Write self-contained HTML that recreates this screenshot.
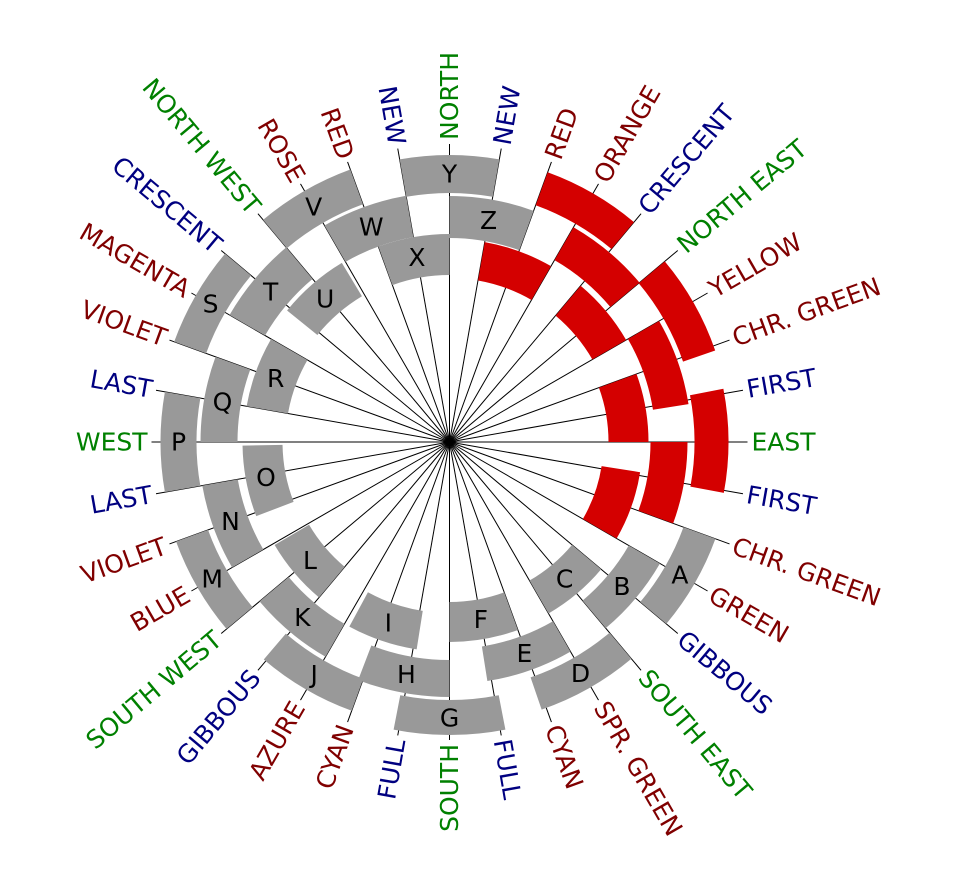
<!DOCTYPE html>
<html><head><meta charset="utf-8"><style>
html,body{margin:0;padding:0;background:#fff;}
svg{display:block;}
.b{fill:none;stroke:#999;}
.r{fill:none;stroke:#d40000;}
.l{font-family:"DejaVu Sans","Liberation Sans",sans-serif;font-size:25px;fill:#000;text-anchor:middle;dominant-baseline:central;}
.t{font-family:"DejaVu Sans","Liberation Sans",sans-serif;font-size:25px;dominant-baseline:central;}
.g{fill:#008000}.d{fill:#800000}.n{fill:#000080}
.R{text-anchor:start}.L{text-anchor:end}
</style></head><body>
<svg width="969" height="889" viewBox="0 0 969 889" xmlns="http://www.w3.org/2000/svg">
<g transform="translate(449.5,442)">
<g stroke="#000" stroke-width="1">
<line x2="0" y2="-298" transform="rotate(0)"/><line x2="0" y2="-298" transform="rotate(10)"/><line x2="0" y2="-298" transform="rotate(20)"/><line x2="0" y2="-298" transform="rotate(30)"/><line x2="0" y2="-298" transform="rotate(40)"/><line x2="0" y2="-298" transform="rotate(50)"/><line x2="0" y2="-298" transform="rotate(60)"/><line x2="0" y2="-298" transform="rotate(70)"/><line x2="0" y2="-298" transform="rotate(80)"/><line x2="0" y2="-298" transform="rotate(90)"/><line x2="0" y2="-298" transform="rotate(100)"/><line x2="0" y2="-298" transform="rotate(110)"/><line x2="0" y2="-298" transform="rotate(120)"/><line x2="0" y2="-298" transform="rotate(130)"/><line x2="0" y2="-298" transform="rotate(140)"/><line x2="0" y2="-298" transform="rotate(150)"/><line x2="0" y2="-298" transform="rotate(160)"/><line x2="0" y2="-298" transform="rotate(170)"/><line x2="0" y2="-298" transform="rotate(180)"/><line x2="0" y2="-298" transform="rotate(190)"/><line x2="0" y2="-298" transform="rotate(200)"/><line x2="0" y2="-298" transform="rotate(210)"/><line x2="0" y2="-298" transform="rotate(220)"/><line x2="0" y2="-298" transform="rotate(230)"/><line x2="0" y2="-298" transform="rotate(240)"/><line x2="0" y2="-298" transform="rotate(250)"/><line x2="0" y2="-298" transform="rotate(260)"/><line x2="0" y2="-298" transform="rotate(270)"/><line x2="0" y2="-298" transform="rotate(280)"/><line x2="0" y2="-298" transform="rotate(290)"/><line x2="0" y2="-298" transform="rotate(300)"/><line x2="0" y2="-298" transform="rotate(310)"/><line x2="0" y2="-298" transform="rotate(320)"/><line x2="0" y2="-298" transform="rotate(330)"/><line x2="0" y2="-298" transform="rotate(340)"/><line x2="0" y2="-298" transform="rotate(350)"/>
</g>
<circle r="4" fill="#000"/>
<circle class="b" r="266" stroke-width="34" stroke-dasharray="92.85 3000" transform="rotate(20)"/>
<circle class="b" r="225" stroke-width="36" stroke-dasharray="78.54 3000" transform="rotate(30)"/>
<circle class="b" r="179" stroke-width="38" stroke-dasharray="62.48 3000" transform="rotate(40)"/>
<circle class="b" r="266" stroke-width="34" stroke-dasharray="97.49 3000" transform="rotate(50)"/>
<circle class="b" r="224.5" stroke-width="35" stroke-dasharray="82.28 3000" transform="rotate(60)"/>
<circle class="b" r="180" stroke-width="40" stroke-dasharray="62.83 3000" transform="rotate(70)"/>
<circle class="b" r="275.5" stroke-width="35" stroke-dasharray="105.78 3000" transform="rotate(79)"/>
<circle class="b" r="236.5" stroke-width="37" stroke-dasharray="86.68 3000" transform="rotate(90)"/>
<circle class="b" r="190.5" stroke-width="39" stroke-dasharray="64.83 3000" transform="rotate(99)"/>
<circle class="b" r="269" stroke-width="34" stroke-dasharray="96.25 3000" transform="rotate(110)"/>
<circle class="b" r="229" stroke-width="38" stroke-dasharray="79.94 3000" transform="rotate(120)"/>
<circle class="b" r="183" stroke-width="40" stroke-dasharray="62.28 3000" transform="rotate(130)"/>
<circle class="b" r="274" stroke-width="34" stroke-dasharray="95.64 3000" transform="rotate(140)"/>
<circle class="b" r="233" stroke-width="36" stroke-dasharray="81.33 3000" transform="rotate(150)"/>
<circle class="b" r="187" stroke-width="40" stroke-dasharray="65.27 3000" transform="rotate(159)"/>
<circle class="b" r="271" stroke-width="36" stroke-dasharray="94.6 3000" transform="rotate(170)"/>
<circle class="b" r="230.5" stroke-width="37" stroke-dasharray="80.46 3000" transform="rotate(180)"/>
<circle class="b" r="185" stroke-width="42" stroke-dasharray="64.58 3000" transform="rotate(190)"/>
<circle class="b" r="276" stroke-width="34" stroke-dasharray="96.34 3000" transform="rotate(200)"/>
<circle class="b" r="233.5" stroke-width="41" stroke-dasharray="81.5 3000" transform="rotate(210)"/>
<circle class="b" r="189.5" stroke-width="39" stroke-dasharray="66.15 3000" transform="rotate(219)"/>
<circle class="b" r="271.5" stroke-width="37" stroke-dasharray="94.77 3000" transform="rotate(230)"/>
<circle class="b" r="229" stroke-width="42" stroke-dasharray="79.94 3000" transform="rotate(240)"/>
<circle class="b" r="187.5" stroke-width="41" stroke-dasharray="65.45 3000" transform="rotate(250)"/>
<circle class="b" r="268" stroke-width="38" stroke-dasharray="93.55 3000" transform="rotate(260)"/>
<circle class="b" r="225" stroke-width="42" stroke-dasharray="78.54 3000" transform="rotate(-90)"/>
<circle class="r" r="183.5" stroke-width="39" stroke-dasharray="64.05 3000" transform="rotate(-80)"/>
<circle class="r" r="269.5" stroke-width="35" stroke-dasharray="94.07 3000" transform="rotate(-70)"/>
<circle class="r" r="229" stroke-width="38" stroke-dasharray="79.94 3000" transform="rotate(-60)"/>
<circle class="r" r="184.5" stroke-width="39" stroke-dasharray="64.4 3000" transform="rotate(-50)"/>
<circle class="r" r="264" stroke-width="34" stroke-dasharray="96.76 3000" transform="rotate(-40)"/>
<circle class="r" r="224" stroke-width="36" stroke-dasharray="82.1 3000" transform="rotate(-30)"/>
<circle class="r" r="179" stroke-width="40" stroke-dasharray="62.48 3000" transform="rotate(-20)"/>
<circle class="r" r="262" stroke-width="34" stroke-dasharray="98.31 3000" transform="rotate(-11)"/>
<circle class="r" r="219.5" stroke-width="37" stroke-dasharray="76.62 3000" transform="rotate(0)"/>
<circle class="r" r="173.5" stroke-width="39" stroke-dasharray="63.59 3000" transform="rotate(9)"/>
<text class="l" x="230.4" y="133">A</text>
<text class="l" x="172.4" y="144.6">B</text>
<text class="l" x="115.1" y="137.1">C</text>
<text class="l" x="131" y="231.5">D</text>
<text class="l" x="74.9" y="211.6">E</text>
<text class="l" x="31.3" y="177.3">F</text>
<text class="l" x="0" y="276">G</text>
<text class="l" x="-43.1" y="232.5">H</text>
<text class="l" x="-61.2" y="180.9">I</text>
<text class="l" x="-135.3" y="232.5">J</text>
<text class="l" x="-147.2" y="175.4">K</text>
<text class="l" x="-139.6" y="118.4">L</text>
<text class="l" x="-237.3" y="137">M</text>
<text class="l" x="-219" y="79.7">N</text>
<text class="l" x="-183.6" y="35.7">O</text>
<text class="l" x="-271" y="0">P</text>
<text class="l" x="-227" y="-40">Q</text>
<text class="l" x="-173.8" y="-63.3">R</text>
<text class="l" x="-239" y="-138">S</text>
<text class="l" x="-178.9" y="-150.1">T</text>
<text class="l" x="-124.3" y="-143">U</text>
<text class="l" x="-135.8" y="-235.1">V</text>
<text class="l" x="-78.3" y="-215.2">W</text>
<text class="l" x="-32.6" y="-184.7">X</text>
<text class="l" x="0" y="-268">Y</text>
<text class="l" x="39.1" y="-221.6">Z</text>
<text class="t R g" transform="rotate(-90) translate(302,0)">NORTH</text>
<text class="t R n" transform="rotate(-80) translate(302,0)">NEW</text>
<text class="t R d" transform="rotate(-70) translate(302,0)">RED</text>
<text class="t R d" transform="rotate(-60) translate(302,0)">ORANGE</text>
<text class="t R n" transform="rotate(-50) translate(302,0)">CRESCENT</text>
<text class="t R g" transform="rotate(-40) translate(302,0)">NORTH EAST</text>
<text class="t R d" transform="rotate(-30) translate(302,0)">YELLOW</text>
<text class="t R d" transform="rotate(-20) translate(302,0)">CHR. GREEN</text>
<text class="t R n" transform="rotate(-10) translate(302,0)">FIRST</text>
<text class="t R g" transform="rotate(0) translate(302,0)">EAST</text>
<text class="t R n" transform="rotate(10) translate(302,0)">FIRST</text>
<text class="t R d" transform="rotate(20) translate(302,0)">CHR. GREEN</text>
<text class="t R d" transform="rotate(30) translate(302,0)">GREEN</text>
<text class="t R n" transform="rotate(40) translate(302,0)">GIBBOUS</text>
<text class="t R g" transform="rotate(50) translate(302,0)">SOUTH EAST</text>
<text class="t R d" transform="rotate(60) translate(302,0)">SPR. GREEN</text>
<text class="t R d" transform="rotate(70) translate(302,0)">CYAN</text>
<text class="t R n" transform="rotate(80) translate(302,0)">FULL</text>
<text class="t L g" transform="rotate(270) translate(-302,0)">SOUTH</text>
<text class="t L n" transform="rotate(280) translate(-302,0)">FULL</text>
<text class="t L d" transform="rotate(290) translate(-302,0)">CYAN</text>
<text class="t L d" transform="rotate(300) translate(-302,0)">AZURE</text>
<text class="t L n" transform="rotate(310) translate(-302,0)">GIBBOUS</text>
<text class="t L g" transform="rotate(320) translate(-302,0)">SOUTH WEST</text>
<text class="t L d" transform="rotate(330) translate(-302,0)">BLUE</text>
<text class="t L d" transform="rotate(340) translate(-302,0)">VIOLET</text>
<text class="t L n" transform="rotate(350) translate(-302,0)">LAST</text>
<text class="t L g" transform="rotate(0) translate(-302,0)">WEST</text>
<text class="t L n" transform="rotate(10) translate(-302,0)">LAST</text>
<text class="t L d" transform="rotate(20) translate(-302,0)">VIOLET</text>
<text class="t L d" transform="rotate(30) translate(-302,0)">MAGENTA</text>
<text class="t L n" transform="rotate(40) translate(-302,0)">CRESCENT</text>
<text class="t L g" transform="rotate(50) translate(-302,0)">NORTH WEST</text>
<text class="t L d" transform="rotate(60) translate(-302,0)">ROSE</text>
<text class="t L d" transform="rotate(70) translate(-302,0)">RED</text>
<text class="t L n" transform="rotate(80) translate(-302,0)">NEW</text>
</g>
</svg>
</body></html>
